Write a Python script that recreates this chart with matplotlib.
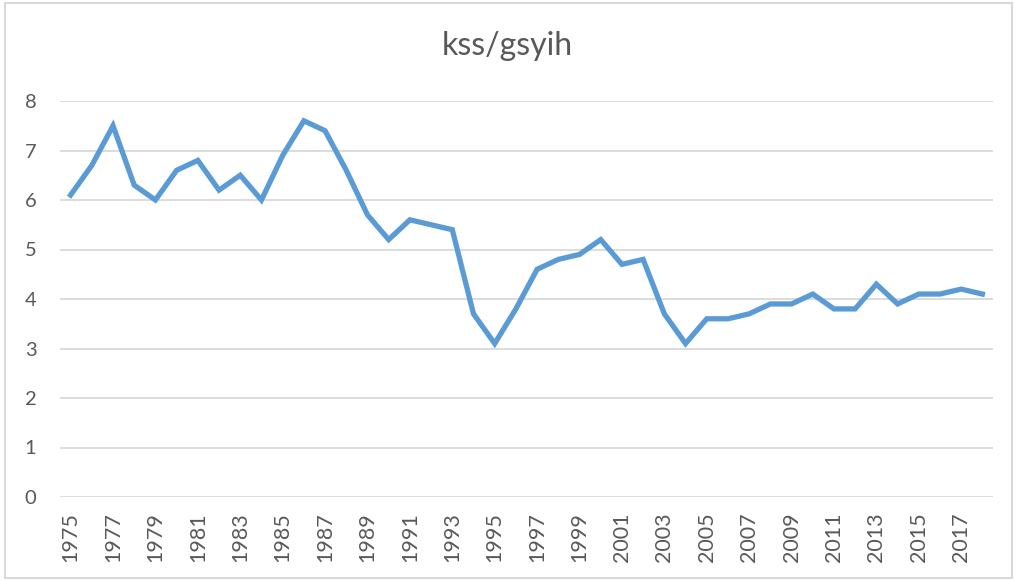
import matplotlib.pyplot as plt
from matplotlib.patches import Rectangle

years = list(range(1975, 2019))
values = [6.1, 6.7, 7.5, 6.3, 6.0, 6.6, 6.8, 6.2, 6.5, 6.0,
          6.9, 7.6, 7.4, 6.6, 5.7, 5.2, 5.6, 5.5, 5.4, 3.7,
          3.1, 3.8, 4.6, 4.8, 4.9, 5.2, 4.7, 4.8, 3.7, 3.1,
          3.6, 3.6, 3.7, 3.9, 3.9, 4.1, 3.8, 3.8, 4.3, 3.9,
          4.1, 4.1, 4.2, 4.1]
title = "kss/gsyih"

text_col = "#595959"
grid_col = "#D9D9D9"

plt.rcParams['font.family'] = ['Lato', 'DejaVu Sans']

fig = plt.figure(figsize=(10.15, 5.81), dpi=100, facecolor='white')
ax = fig.add_axes([60/1015, 1-497/581, 933/1015, 396/581])

x = list(range(len(years)))
ax.plot(x, values, color="#5B9BD5", lw=3.8, solid_joinstyle='miter', zorder=3)

ax.set_xlim(-0.5, len(years)-0.5)
ax.set_ylim(0, 8)
ax.set_yticks(range(0, 9))
ax.set_xticks(x[::2])
ax.set_xticklabels([str(y) for y in years[::2]], rotation=90,
                   family=['Liberation Sans Narrow', 'Lato'], fontsize=15.5)
ax.tick_params(axis='x', length=0, pad=11, colors=text_col)
ax.tick_params(axis='y', length=0, pad=17, colors=text_col, labelsize=14.5)
ax.grid(axis='y', color=grid_col, lw=1.3)
ax.set_axisbelow(True)
for s in ax.spines.values():
    s.set_visible(False)

fig.text(0.5, 1-46/581, title, ha='center', va='center', fontsize=23, color=text_col)

fig.patches.append(Rectangle((5/1015, 3/581), 1007/1015, 575/581, transform=fig.transFigure,
                             fill=False, edgecolor=grid_col, lw=1.5))

fig.savefig("out.png", dpi=100)
